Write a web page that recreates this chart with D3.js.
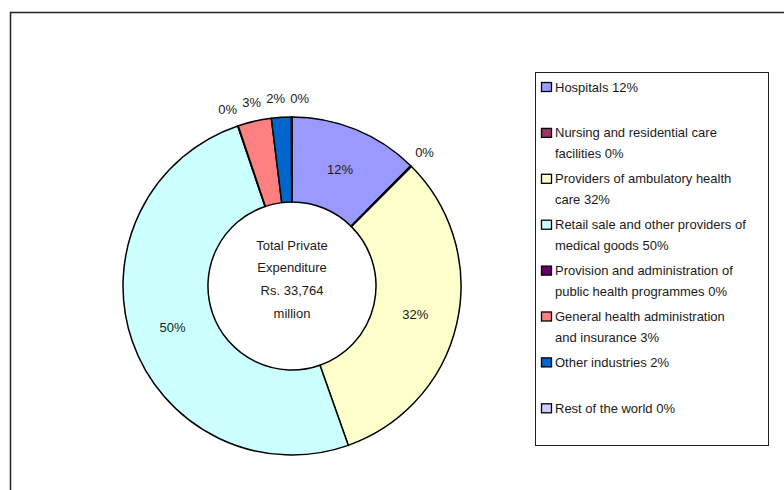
<!DOCTYPE html>
<html>
<head>
<meta charset="utf-8">
<script src="https://cdn.jsdelivr.net/npm/d3@7/dist/d3.min.js"></script>
<style>
  html, body { margin: 0; padding: 0; background: #fff; }
  svg { display: block; }
  text { font-family: "Liberation Sans", Arial, sans-serif; fill: #1a1a1a; }
</style>
</head>
<body>
<svg id="chart" width="784" height="490"></svg>
<script>
// ---- data ----
const categories = [
  "Hospitals",
  "Nursing and residential care facilities",
  "Providers of ambulatory health care",
  "Retail sale and other providers of medical goods",
  "Provision and administration of public health programmes",
  "General health administration and insurance",
  "Other industries",
  "Rest of the world"
];
const values = [12.4, 0.1, 32.1, 50.2, 0.05, 3.2, 1.9, 0.05];
const percentLabels = ["12%", "0%", "32%", "50%", "0%", "3%", "2%", "0%"];
const legendLines = [
  ["Hospitals 12%"],
  ["Nursing and residential care", "facilities 0%"],
  ["Providers of ambulatory health", "care 32%"],
  ["Retail sale and other providers of", "medical goods 50%"],
  ["Provision and administration of", "public health programmes 0%"],
  ["General health administration", "and insurance 3%"],
  ["Other industries 2%"],
  ["Rest of the world 0%"]
];
const colors = ["#9999FF", "#993366", "#FFFFCC", "#CCFFFF", "#660066", "#FF8080", "#0066CC", "#CCCCFF"];
const centerText = ["Total Private", "Expenditure", "Rs. 33,764", "million"];

// ---- layout ----
const svg = d3.select("#chart");
const cx = 292, cy = 286, rOuter = 169, rInner = 84, rLabelOut = 188;

// outer frame (extends past the window on right and bottom)
svg.append("rect")
  .attr("x", 10.5).attr("y", 12.5)
  .attr("width", 820).attr("height", 520)
  .attr("fill", "none").attr("stroke", "#222").attr("stroke-width", 1.5);

const color = d3.scaleOrdinal().domain(categories).range(colors);
const pie = d3.pie().sort(null).value(d => d.value);
const data = categories.map((c, i) => ({ name: c, value: values[i], label: percentLabels[i], lines: legendLines[i] }));
const arcs = pie(data);
const arc = d3.arc().innerRadius(rInner).outerRadius(rOuter);
const labelArcIn = d3.arc().innerRadius((rInner + rOuter) / 2).outerRadius((rInner + rOuter) / 2);
const labelArcOut = d3.arc().innerRadius(rLabelOut).outerRadius(rLabelOut);

const g = svg.append("g").attr("transform", `translate(${cx},${cy})`);
g.selectAll("path.slice").data(arcs).enter().append("path")
  .attr("class", "slice")
  .attr("d", arc)
  .attr("fill", d => color(d.data.name))
  .attr("stroke", "#000").attr("stroke-width", 1.5).attr("stroke-linejoin", "round");

// label positions: big slices inside the ring, small ones outside, spread apart
const labelPos = arcs.map(d => {
  const big = d.data.value >= 5;
  const p = (big ? labelArcIn : labelArcOut).centroid(d);
  return { d, big, x: p[0], y: p[1] };
});
const outside = labelPos.filter(p => !p.big && p.y < -rOuter * 0.8).sort((a, b) => a.x - b.x);
const minGap = 24;
for (let iter = 0; iter < 50; iter++) {
  for (let k = 1; k < outside.length; k++) {
    const gap = outside[k].x - outside[k - 1].x;
    if (gap < minGap) {
      const push = (minGap - gap) / 2;
      outside[k].x += push;
      outside[k - 1].x -= push;
    }
  }
}
outside.forEach(p => {
  p.y = -Math.sqrt(Math.max(0, rLabelOut * rLabelOut - p.x * p.x));
});

g.selectAll("text.lbl").data(labelPos).enter().append("text")
  .attr("class", "lbl")
  .attr("transform", p => `translate(${p.x},${p.y})`)
  .attr("text-anchor", "middle")
  .attr("dy", "0.35em")
  .attr("font-size", 13)
  .text(p => p.d.data.label);

// center text
g.selectAll("text.center").data(centerText).enter().append("text")
  .attr("class", "center")
  .attr("text-anchor", "middle")
  .attr("font-size", 13)
  .attr("y", (d, i) => -41 + i * 22.7)
  .attr("dy", "0.35em")
  .text(d => d);

// legend
const lgX = 535, lgY = 72, lgW = 233, lgH = 373;
svg.append("rect")
  .attr("x", lgX + 0.5).attr("y", lgY + 0.5)
  .attr("width", lgW).attr("height", lgH)
  .attr("fill", "#fff").attr("stroke", "#222").attr("stroke-width", 1);

const step = 45.9, firstY = 87;
const items = svg.selectAll("g.leg").data(data).enter().append("g")
  .attr("class", "leg")
  .attr("transform", (d, i) => `translate(${lgX}, ${firstY + i * step})`);
items.append("rect")
  .attr("x", 6.5).attr("y", -4.5)
  .attr("width", 10).attr("height", 9)
  .attr("fill", d => color(d.name))
  .attr("stroke", "#000").attr("stroke-width", 1.3);
items.each(function(d) {
  const t = d3.select(this).append("text")
    .attr("x", 20).attr("y", 0).attr("font-size", 13);
  d.lines.forEach((ln, j) => {
    t.append("tspan").attr("x", 20).attr("y", j * 21).attr("dy", "0.35em").text(ln);
  });
});
</script>
</body>
</html>
